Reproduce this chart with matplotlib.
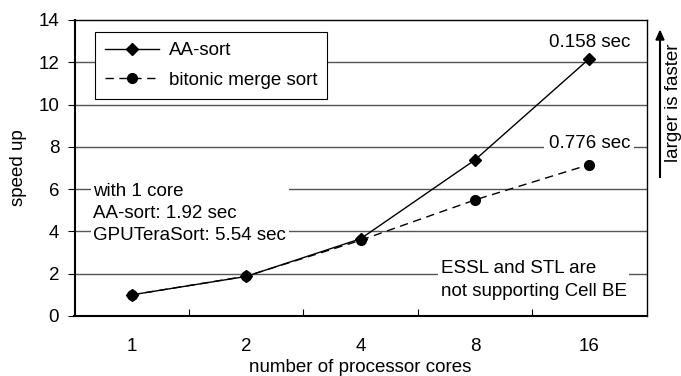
import matplotlib.pyplot as plt
from matplotlib.ticker import FixedLocator

plt.rcParams['font.family'] = ['Liberation Sans', 'DejaVu Sans']
plt.rcParams['font.size'] = 13.5

cores = ['1', '2', '4', '8', '16']
aa_sort = [1.0, 1.87, 3.65, 7.38, 12.17]
bitonic = [1.0, 1.88, 3.58, 5.49, 7.16]

fig = plt.figure(figsize=(6.81, 3.76), dpi=100)
ax = fig.add_axes([74.5/681, 60/376, 572/681, 296/376])

xs = list(range(len(cores)))
ax.plot(xs, aa_sort, color='black', lw=1, marker='D', ms=6, label='AA-sort', zorder=4)
ax.plot(xs, bitonic, color='black', lw=1, ls=(0, (6, 4)), marker='o', ms=7,
        label='bitonic merge sort', zorder=4)

ax.set_xlim(-0.5, len(cores) - 0.5)
ax.set_ylim(0, 14)
ax.set_yticks(range(0, 15, 2))
ax.set_xticks(xs)
ax.set_xticklabels(cores)
ax.xaxis.set_minor_locator(FixedLocator([i + 0.5 for i in xs[:-1]]))
ax.tick_params(axis='x', which='major', length=0, pad=16)
ax.tick_params(axis='x', which='minor', direction='in', length=5, width=0.8)
ax.tick_params(axis='y', direction='out', length=5, width=0.8, pad=6)
for y in range(2, 14, 2):
    ax.axhline(y, color='#555555', lw=1, zorder=1)
for s in ax.spines.values():
    s.set_linewidth(1)
ax.spines['left'].set_linewidth(1.5)
ax.spines['bottom'].set_linewidth(1.5)

ax.set_xlabel('number of processor cores', labelpad=3)
ax.set_ylabel('speed up', labelpad=8)

leg = ax.legend(loc='upper left', bbox_to_anchor=(0.035, 0.96), frameon=True,
                fancybox=False, edgecolor='black', framealpha=1,
                handlelength=2.9, handletextpad=0.5, borderpad=0.55,
                labelspacing=0.65, borderaxespad=0)
leg.get_frame().set_linewidth(0.8)

ax.annotate('0.158 sec', (xs[-1], aa_sort[-1]), xytext=(0, 12),
            textcoords='offset points', ha='center', va='center')
ax.annotate('0.776 sec', (xs[-1], bitonic[-1]), xytext=(0, 15),
            textcoords='offset points', ha='center', va='center',
            bbox=dict(facecolor='white', edgecolor='none', pad=3), zorder=3)

ax.text(0.033, 0.448, 'with 1 core\nAA-sort: 1.92 sec\nGPUTeraSort: 5.54 sec',
        transform=ax.transAxes, ha='left', va='top', linespacing=1.38,
        bbox=dict(facecolor='white', edgecolor='none', pad=2), zorder=3)
ax.text(0.64, 0.19, 'ESSL and STL are\nnot supporting Cell BE',
        transform=ax.transAxes, ha='left', va='top', linespacing=1.45,
        bbox=dict(facecolor='white', edgecolor='none', pad=2), zorder=3)

# "larger is faster" arrow to the right of the plot
fig.add_artist(plt.Line2D([660/681, 660/681], [1 - 177/376, 1 - 40/376],
                          color='black', lw=1.5))
fig.add_artist(plt.Polygon([[656/681, 1 - 40/376], [664/681, 1 - 40/376],
                            [660/681, 1 - 31/376]], closed=True, color='black'))
fig.text(673/681, 1 - 103/376, 'larger is faster', rotation=90,
         ha='center', va='center')

fig.savefig('out.png', dpi=100)
